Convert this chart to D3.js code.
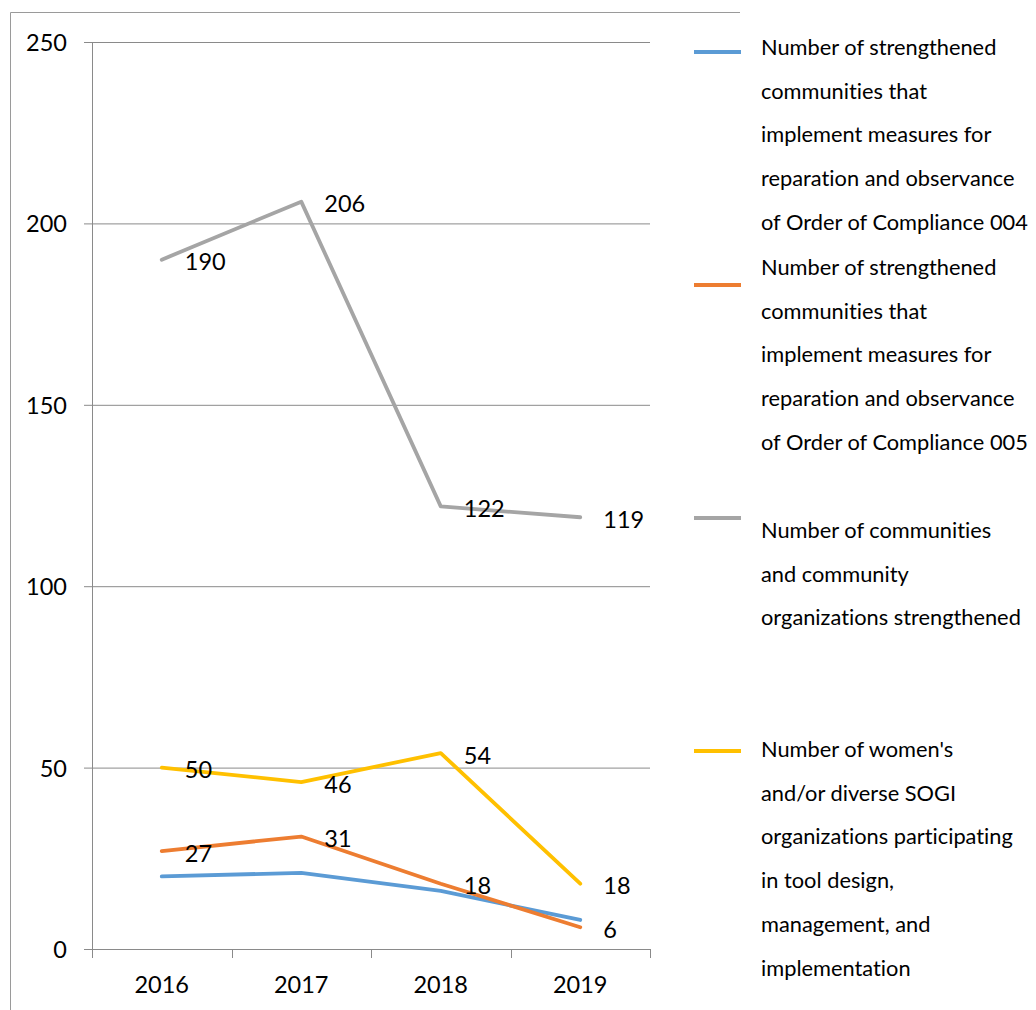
<!DOCTYPE html>
<html>
<head>
<meta charset="utf-8">
<script src="https://cdn.jsdelivr.net/npm/d3@7"></script>
<style>
  html, body { margin: 0; padding: 0; background: #fff; }
  svg { display: block; }
  text { font-family: Lato, "Open Sans", "Noto Sans", sans-serif; fill: #000; font-variant-ligatures: none; font-feature-settings: "liga" 0, "clig" 0; }
</style>
</head>
<body>
<svg id="chart" width="1036" height="1010"></svg>
<script>
// Years on the category axis
const years = ["2016", "2017", "2018", "2019"];

// Series values, one array per indicator
const order004 = [20, 21, 16, 8];
const order005 = [27, 31, 18, 6];
const communitiesStrengthened = [190, 206, 122, 119];
const womenSogiOrgs = [50, 46, 54, 18];

// Value-axis tick labels
const yTicks = [0, 50, 100, 150, 200, 250];

// Legend text, already broken into lines
const legend004 = ["Number of strengthened", "communities that", "implement measures for", "reparation and observance", "of Order of Compliance 004"];
const legend005 = ["Number of strengthened", "communities that", "implement measures for", "reparation and observance", "of Order of Compliance 005"];
const legendCommunities = ["Number of communities", "and community", "organizations strengthened"];
const legendWomen = ["Number of women's", "and/or diverse SOGI", "organizations participating", "in tool design,", "management, and", "implementation"];

const series = [
  { values: order004, color: "#5B9BD5", labels: false, legend: legend004 },
  { values: order005, color: "#ED7D31", labels: true, legend: legend005 },
  { values: communitiesStrengthened, color: "#A5A5A5", labels: true, legend: legendCommunities },
  { values: womenSogiOrgs, color: "#FFC000", labels: true, legend: legendWomen }
];

const svg = d3.select("#chart");
const axisColor = "#8a8a8a";

// Outer frame (left and top edges)
svg.append("path")
  .attr("d", "M10.5,1010 V12.5 H740")
  .attr("fill", "none").attr("stroke", "#9a9a9a").attr("stroke-width", 1);

// Plot area
const plotLeft = 92, plotRight = 650, plotTop = 42, plotBottom = 949;

const x = d3.scaleBand().domain(years).range([plotLeft, plotRight]);
const y = d3.scaleLinear().domain([0, 250]).range([plotBottom, plotTop]);

// Horizontal gridlines with outward tick marks
svg.append("g")
  .attr("transform", `translate(${plotLeft},0)`)
  .call(d3.axisLeft(y).tickValues(yTicks).tickSize(8).tickPadding(17).tickFormat(d3.format("d")))
  .call(g => g.select(".domain").remove())
  .call(g => g.selectAll(".tick line").attr("stroke", axisColor).attr("x2", plotRight - plotLeft).attr("x1", -8))
  .call(g => g.selectAll(".tick text").attr("font-size", 23.5).attr("fill", "#000").attr("dy", "0.36em"));

// Vertical axis line
svg.append("line")
  .attr("x1", plotLeft + 0.5).attr("x2", plotLeft + 0.5)
  .attr("y1", plotTop).attr("y2", plotBottom + 9)
  .attr("stroke", axisColor);

// Category boundary ticks below the baseline
const boundaries = years.map(d => x(d)).concat([x(years[years.length - 1]) + x.bandwidth()]);
svg.append("g").selectAll("line").data(boundaries).join("line")
  .attr("x1", d => Math.round(d) + 0.5).attr("x2", d => Math.round(d) + 0.5)
  .attr("y1", plotBottom).attr("y2", plotBottom + 9)
  .attr("stroke", axisColor);

// Category labels
svg.append("g")
  .attr("transform", `translate(0,${plotBottom})`)
  .call(d3.axisBottom(x).tickSize(0).tickPadding(27))
  .call(g => g.select(".domain").remove())
  .call(g => g.selectAll(".tick text").attr("font-size", 23.5).attr("fill", "#000"));

// Lines
const line = d3.line()
  .x((d, i) => x(years[i]) + x.bandwidth() / 2)
  .y(d => y(d));

series.forEach(s => {
  svg.append("path")
    .datum(s.values)
    .attr("d", line)
    .attr("fill", "none")
    .attr("stroke", s.color)
    .attr("stroke-width", 3.8)
    .attr("stroke-linejoin", "round")
    .attr("stroke-linecap", "round");
});

// Data labels to the right of each point
series.filter(s => s.labels).forEach(s => {
  svg.append("g").selectAll("text").data(s.values).join("text")
    .attr("x", (d, i) => x(years[i]) + x.bandwidth() / 2 + 23)
    .attr("y", d => y(d) + 2)
    .attr("dy", "0.36em")
    .attr("font-size", 23.5)
    .text(d => d);
});

// Legend
const legendMarkerY = [52, 285, 518, 751];
const legendFirstBaseline = [55, 275, 538, 757];
const lineGap = 43.7;
series.forEach((s, i) => {
  const g = svg.append("g");
  g.append("line")
    .attr("x1", 694).attr("x2", 741)
    .attr("y1", legendMarkerY[i]).attr("y2", legendMarkerY[i])
    .attr("stroke", s.color).attr("stroke-width", 3.8);
  g.append("text")
    .attr("font-size", 21.8)
    .selectAll("tspan").data(s.legend).join("tspan")
    .attr("x", 761)
    .attr("y", (d, j) => legendFirstBaseline[i] + j * lineGap)
    .text(d => d);
});
</script>
</body>
</html>
